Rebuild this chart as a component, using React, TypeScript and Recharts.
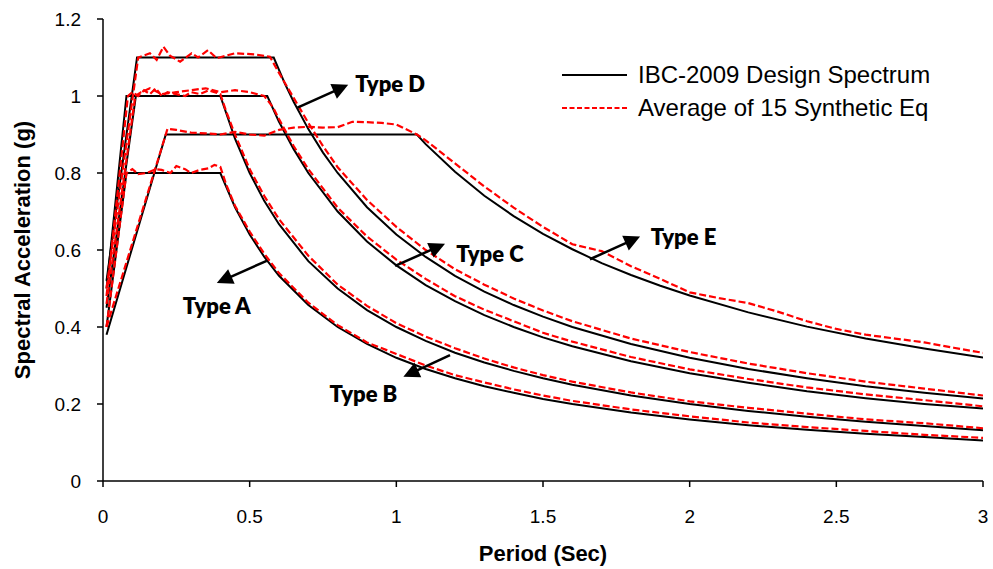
import React from 'react';
import { LineChart, Line, XAxis, YAxis, Legend, ReferenceLine, ReferenceDot } from 'recharts';

// ---- axis ticks ----
const periodTicks = [0, 0.5, 1, 1.5, 2, 2.5, 3];
const accelTicks = [0, 0.2, 0.4, 0.6, 0.8, 1, 1.2];

// ---- IBC-2009 design spectra [Period (s), Sa (g)] ----
const designA: number[][] = [
  [0.012, 0.4], [0.08, 0.8], [0.4, 0.8], [0.45, 0.711], [0.5, 0.64], [0.55, 0.582], [0.6, 0.533], [0.7, 0.457],
  [0.8, 0.4], [0.9, 0.356], [1.0, 0.32], [1.1, 0.291], [1.2, 0.267], [1.3, 0.246], [1.4, 0.229], [1.5, 0.213],
  [1.6, 0.2], [1.8, 0.178], [2.0, 0.16], [2.2, 0.145], [2.4, 0.133], [2.6, 0.123], [2.8, 0.114], [3.0, 0.105],
];
const designB: number[][] = [
  [0.012, 0.5], [0.08, 1.0], [0.4, 1.0], [0.45, 0.889], [0.5, 0.8], [0.55, 0.727], [0.6, 0.667], [0.7, 0.571],
  [0.8, 0.5], [0.9, 0.444], [1.0, 0.4], [1.1, 0.364], [1.2, 0.333], [1.3, 0.308], [1.4, 0.286], [1.5, 0.267],
  [1.6, 0.25], [1.8, 0.222], [2.0, 0.2], [2.2, 0.182], [2.4, 0.167], [2.6, 0.154], [2.8, 0.143], [3.0, 0.132],
];
const designC: number[][] = [
  [0.012, 0.45], [0.112, 1.0], [0.56, 1.0], [0.6, 0.933], [0.65, 0.862], [0.7, 0.8], [0.8, 0.7], [0.9, 0.622],
  [1.0, 0.56], [1.1, 0.509], [1.2, 0.467], [1.3, 0.431], [1.4, 0.4], [1.5, 0.373], [1.6, 0.35], [1.8, 0.311],
  [2.0, 0.28], [2.2, 0.255], [2.4, 0.233], [2.6, 0.215], [2.8, 0.2], [3.0, 0.188],
];
const designD: number[][] = [
  [0.012, 0.52], [0.116, 1.1], [0.582, 1.1], [0.62, 1.032], [0.65, 0.985], [0.7, 0.914], [0.75, 0.853], [0.8, 0.8],
  [0.9, 0.711], [1.0, 0.64], [1.1, 0.582], [1.2, 0.533], [1.3, 0.492], [1.4, 0.457], [1.5, 0.427], [1.6, 0.4],
  [1.8, 0.356], [2.0, 0.32], [2.2, 0.291], [2.4, 0.267], [2.6, 0.246], [2.8, 0.229], [3.0, 0.214],
];
const designE: number[][] = [
  [0.012, 0.38], [0.214, 0.9], [1.07, 0.9], [1.1, 0.875], [1.2, 0.803], [1.3, 0.741], [1.4, 0.688], [1.5, 0.642],
  [1.6, 0.602], [1.7, 0.566], [1.8, 0.535], [1.9, 0.507], [2.0, 0.482], [2.2, 0.438], [2.4, 0.401], [2.6, 0.37],
  [2.8, 0.344], [3.0, 0.321],
];

// ---- average of 15 synthetic earthquakes [Period (s), Sa (g)] ----
const averageA: number[][] = [
  [0.012, 0.4], [0.08, 0.8], [0.1, 0.81], [0.12, 0.797], [0.15, 0.8], [0.18, 0.81], [0.2, 0.808], [0.23, 0.8],
  [0.25, 0.818], [0.28, 0.81], [0.3, 0.8], [0.33, 0.808], [0.36, 0.812], [0.38, 0.821], [0.4, 0.816], [0.42, 0.77],
  [0.45, 0.715], [0.5, 0.648], [0.55, 0.59], [0.6, 0.54], [0.7, 0.463], [0.8, 0.405], [0.9, 0.36], [1.0, 0.33],
  [1.1, 0.3], [1.2, 0.275], [1.3, 0.256], [1.4, 0.238], [1.5, 0.222], [1.6, 0.208], [1.8, 0.186], [2.0, 0.168],
  [2.2, 0.152], [2.4, 0.14], [2.6, 0.13], [2.8, 0.12], [3.0, 0.112],
];
const averageB: number[][] = [
  [0.012, 0.48], [0.085, 1.0], [0.1, 1.01], [0.12, 1.0], [0.14, 1.015], [0.16, 1.005], [0.18, 1.02], [0.2, 1.0],
  [0.22, 1.01], [0.25, 1.005], [0.28, 1.0], [0.3, 1.01], [0.33, 1.005], [0.36, 1.015], [0.4, 1.005], [0.42, 0.96],
  [0.45, 0.9], [0.5, 0.81], [0.55, 0.74], [0.6, 0.68], [0.7, 0.585], [0.8, 0.51], [0.9, 0.455], [1.0, 0.41],
  [1.1, 0.375], [1.2, 0.345], [1.3, 0.318], [1.4, 0.295], [1.5, 0.275], [1.6, 0.258], [1.8, 0.23], [2.0, 0.207],
  [2.2, 0.19], [2.4, 0.175], [2.6, 0.16], [2.8, 0.15], [3.0, 0.137],
];
const averageC: number[][] = [
  [0.012, 0.46], [0.11, 1.0], [0.13, 1.01], [0.16, 1.02], [0.2, 1.005], [0.25, 1.01], [0.3, 1.015], [0.35, 1.02],
  [0.4, 1.01], [0.45, 1.015], [0.5, 1.01], [0.55, 1.0], [0.58, 0.97], [0.6, 0.94], [0.65, 0.87], [0.7, 0.81],
  [0.8, 0.71], [0.9, 0.635], [1.0, 0.575], [1.1, 0.525], [1.2, 0.48], [1.3, 0.445], [1.4, 0.415], [1.5, 0.385],
  [1.6, 0.362], [1.8, 0.322], [2.0, 0.29], [2.2, 0.265], [2.4, 0.243], [2.6, 0.225], [2.8, 0.21], [3.0, 0.194],
];
const averageD: number[][] = [
  [0.012, 0.5], [0.12, 1.1], [0.16, 1.111], [0.183, 1.094], [0.206, 1.128], [0.228, 1.105], [0.263, 1.089],
  [0.302, 1.111], [0.324, 1.1], [0.358, 1.119], [0.388, 1.098], [0.42, 1.105], [0.45, 1.111], [0.518, 1.108],
  [0.569, 1.102], [0.6, 1.06], [0.65, 0.995], [0.7, 0.93], [0.75, 0.87], [0.8, 0.815], [0.9, 0.73], [1.0, 0.66],
  [1.1, 0.6], [1.2, 0.55], [1.3, 0.51], [1.4, 0.474], [1.5, 0.443], [1.6, 0.415], [1.8, 0.37], [2.0, 0.335],
  [2.2, 0.305], [2.4, 0.28], [2.6, 0.258], [2.8, 0.24], [3.0, 0.222],
];
const averageE: number[][] = [
  [0.012, 0.4], [0.22, 0.915], [0.25, 0.912], [0.3, 0.905], [0.35, 0.903], [0.4, 0.9], [0.45, 0.907], [0.5, 0.9],
  [0.55, 0.897], [0.6, 0.912], [0.65, 0.918], [0.7, 0.92], [0.75, 0.918], [0.8, 0.919], [0.85, 0.933], [0.9, 0.932],
  [0.95, 0.93], [1.0, 0.926], [1.07, 0.9], [1.1, 0.885], [1.2, 0.825], [1.3, 0.765], [1.4, 0.71], [1.5, 0.66],
  [1.6, 0.615], [1.7, 0.597], [1.8, 0.558], [1.9, 0.525], [2.0, 0.49], [2.1, 0.475], [2.2, 0.462], [2.3, 0.44],
  [2.4, 0.415], [2.5, 0.395], [2.6, 0.38], [2.7, 0.37], [2.8, 0.36], [2.9, 0.346], [3.0, 0.333],
];

// ---- annotations (data coordinates) ----
const annotationLabels = ['Type A', 'Type B', 'Type C', 'Type D', 'Type E'];
const arrowFrom: number[][] = [[0.558, 0.572], [1.183, 0.327], [0.996, 0.559], [0.663, 0.97], [1.66, 0.576]];
const arrowTo: number[][] = [[0.388, 0.514], [1.024, 0.271], [1.166, 0.616], [0.836, 1.029], [1.831, 0.635]];
const labelAt: number[][] = [[0.388, 0.455], [0.888, 0.228], [1.319, 0.591], [0.979, 1.033], [1.979, 0.636]];

const legendNames = ['IBC-2009 Design Spectrum', 'Average of 15 Synthetic Eq'];

const toPoints = (arr: number[][]) => arr.map(([T, Sa]) => ({ T, Sa }));

const designSeries = [designA, designB, designC, designD, designE];
const averageSeries = [averageA, averageB, averageC, averageD, averageE];

const FONT = '"Liberation Sans", Arial, sans-serif';

const ArrowShape = (props: any) => {
  const { x1, y1, x2, y2 } = props;
  const dx = x2 - x1;
  const dy = y2 - y1;
  const len = Math.sqrt(dx * dx + dy * dy) || 1;
  const ux = dx / len;
  const uy = dy / len;
  const head = 16;
  const half = 8;
  const bx = x2 - ux * head;
  const by = y2 - uy * head;
  const px = -uy;
  const py = ux;
  return (
    <g>
      <line x1={x1} y1={y1} x2={bx + ux * 2} y2={by + uy * 2} stroke="#000" strokeWidth={2.5} />
      <polygon
        points={`${x2},${y2} ${bx + px * half},${by + py * half} ${bx - px * half},${by - py * half}`}
        fill="#000"
      />
    </g>
  );
};

const makeLabelShape = (text: string) => (props: any) => (
  <text
    x={props.cx}
    y={props.cy}
    textAnchor="middle"
    dominantBaseline="central"
    fontFamily="Lato, 'Open Sans', sans-serif"
    fontWeight={800}
    fontSize={22}
    fill="#000"
  >
    {text}
  </text>
);

const LegendContent = () => (
  <div style={{ fontFamily: FONT, fontSize: 24, color: '#000' }}>
    {legendNames.map((name, i) => (
      <div key={name} style={{ display: 'flex', alignItems: 'center', height: 33 }}>
        <svg width={66} height={10} style={{ marginRight: 10 }}>
          <line
            x1={0}
            y1={5}
            x2={65}
            y2={5}
            stroke={i === 0 ? '#000' : '#ff0000'}
            strokeWidth={2}
            strokeDasharray={i === 0 ? undefined : '5 2.5'}
          />
        </svg>
        <span style={{ whiteSpace: 'nowrap', lineHeight: '33px' }}>{name}</span>
      </div>
    ))}
  </div>
);

export default function App() {
  return (
    <div style={{ position: 'absolute', left: 0, top: 0, width: 993, height: 569, background: '#fff' }}>
      <LineChart width={993} height={569} margin={{ top: 19, right: 10, bottom: 28, left: 43 }}>
        <XAxis
          type="number"
          dataKey="T"
          domain={[0, 3]}
          ticks={periodTicks}
          allowDataOverflow
          axisLine={{ stroke: '#000', strokeWidth: 1.5 }}
          tickLine={{ stroke: '#000', strokeWidth: 1.5 }}
          tickSize={6}
          tickMargin={23}
          height={60}
          tick={{ fontFamily: FONT, fontSize: 19, fill: '#000' }}
          label={{
            content: ({ viewBox }: any) => (
              <text
                x={viewBox.x + viewBox.width / 2}
                y={viewBox.y + 72}
                textAnchor="middle"
                dominantBaseline="central"
                fontFamily={FONT}
                fontWeight={700}
                fontSize={22}
                fill="#000"
              >
                Period (Sec)
              </text>
            ),
          }}
        />
        <YAxis
          type="number"
          domain={[0, 1.2]}
          ticks={accelTicks}
          allowDataOverflow
          width={60}
          axisLine={{ stroke: '#000', strokeWidth: 1.5 }}
          tickLine={{ stroke: '#000', strokeWidth: 1.5 }}
          tickSize={6}
          tickMargin={16}
          tick={{ fontFamily: FONT, fontSize: 19, fill: '#000' }}
          label={{
            content: ({ viewBox }: any) => {
              const cx = viewBox.x - 21;
              const cy = viewBox.y + viewBox.height / 2;
              return (
                <text
                  x={cx}
                  y={cy}
                  transform={`rotate(-90, ${cx}, ${cy})`}
                  textAnchor="middle"
                  dominantBaseline="central"
                  fontFamily={FONT}
                  fontWeight={700}
                  fontSize={22}
                  fill="#000"
                >
                  Spectral Acceleration (g)
                </text>
              );
            },
          }}
        />
        <Legend
          layout="vertical"
          align="center"
          verticalAlign="middle"
          content={<LegendContent />}
          wrapperStyle={{ position: 'absolute', left: 562, top: 58, width: 400, height: 70 }}
        />
        {designSeries.map((s, i) => (
          <Line
            key={`design-${i}`}
            data={toPoints(s)}
            dataKey="Sa"
            type="linear"
            stroke="#000"
            strokeWidth={2}
            dot={false}
            activeDot={false}
            isAnimationActive={false}
            legendType="none"
          />
        ))}
        {averageSeries.map((s, i) => (
          <Line
            key={`avg-${i}`}
            data={toPoints(s)}
            dataKey="Sa"
            type="linear"
            stroke="#ff0000"
            strokeWidth={2.2}
            strokeDasharray="7 3"
            dot={false}
            activeDot={false}
            isAnimationActive={false}
            legendType="none"
          />
        ))}
        {annotationLabels.map((label, i) => (
          <ReferenceLine
            key={`arrow-${i}`}
            segment={[
              { x: arrowFrom[i][0], y: arrowFrom[i][1] },
              { x: arrowTo[i][0], y: arrowTo[i][1] },
            ]}
            shape={ArrowShape}
            ifOverflow="visible"
          />
        ))}
        {annotationLabels.map((label, i) => (
          <ReferenceDot
            key={`label-${i}`}
            x={labelAt[i][0]}
            y={labelAt[i][1]}
            r={0}
            shape={makeLabelShape(label)}
            ifOverflow="visible"
          />
        ))}
      </LineChart>
    </div>
  );
}
